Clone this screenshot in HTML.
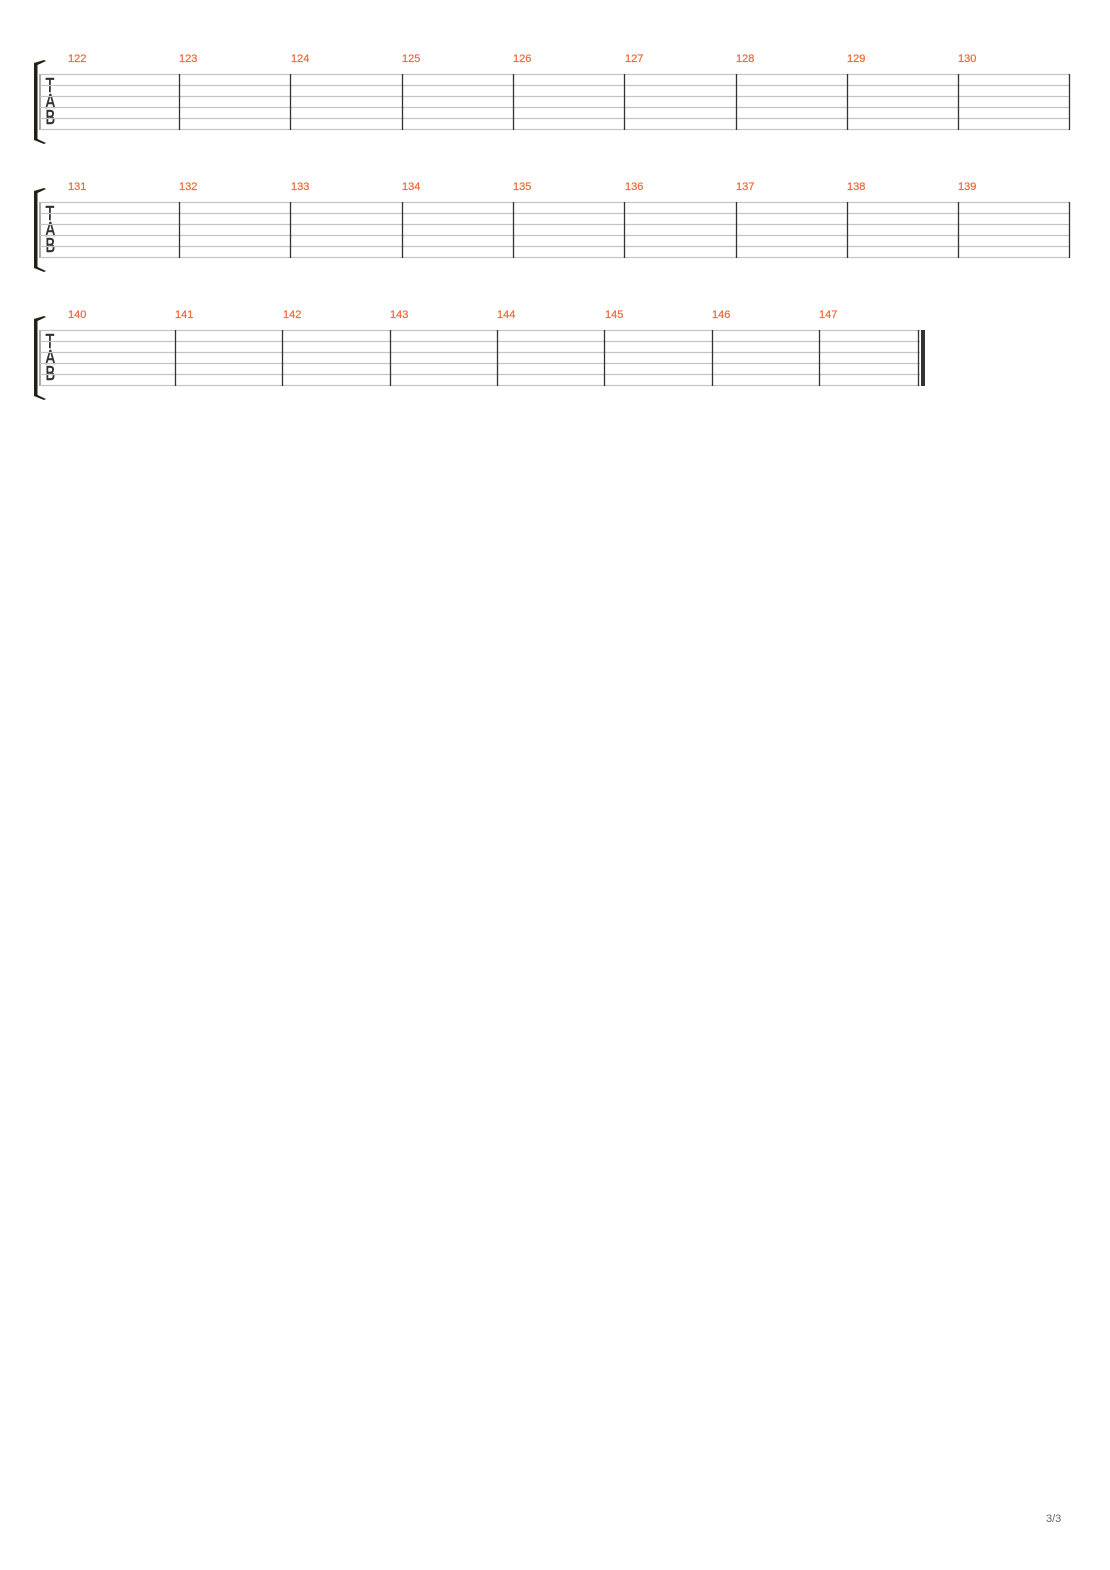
<!DOCTYPE html>
<html><head><meta charset="utf-8"><style>
html,body{margin:0;padding:0;background:#fff;}
svg{display:block}
.n{font-family:"Liberation Sans",sans-serif;font-size:11px;fill:#f26b3a;stroke:#f26b3a;stroke-width:0.25;}
.t{font-family:"Liberation Sans",sans-serif;font-size:20px;fill:#333;stroke:#333;stroke-width:0.6;}
.sl{stroke:#c4c4c4;stroke-width:1.2;}
.bl{stroke:#333;stroke-width:1.3;}
</style></head><body>
<svg width="1110" height="1570" viewBox="0 0 1110 1570" xmlns="http://www.w3.org/2000/svg">
<defs>
<path id="br" d="M34 63 L44 60 L46 61 L37.5 65 L37.5 139 L46 143 L44 144 L34 140 Z" fill="#222214"/>
<g id="tab">
<g transform="translate(45.5,0) scale(0.72,1)"><text class="t" x="0" y="92">T</text><text class="t" x="0" y="108">A</text><text class="t" x="0" y="124">B</text></g>
<line x1="40" y1="74" x2="40" y2="130" stroke="#aaa" stroke-width="2"/>
</g>
</defs>

<g>
<use href="#br"/><use href="#tab"/>
<g class="sl"><line x1="40" y1="74.5" x2="1070" y2="74.5"/><line x1="40" y1="85.5" x2="1070" y2="85.5"/><line x1="40" y1="96.5" x2="1070" y2="96.5"/><line x1="40" y1="107.5" x2="1070" y2="107.5"/><line x1="40" y1="118.5" x2="1070" y2="118.5"/><line x1="40" y1="129.5" x2="1070" y2="129.5"/></g>
<g class="bl"><line x1="179.5" y1="74" x2="179.5" y2="130"/><line x1="290.5" y1="74" x2="290.5" y2="130"/><line x1="402.5" y1="74" x2="402.5" y2="130"/><line x1="513.5" y1="74" x2="513.5" y2="130"/><line x1="624.5" y1="74" x2="624.5" y2="130"/><line x1="736.5" y1="74" x2="736.5" y2="130"/><line x1="847.5" y1="74" x2="847.5" y2="130"/><line x1="958.5" y1="74" x2="958.5" y2="130"/><line x1="1069.5" y1="74" x2="1069.5" y2="130"/></g>
<g class="n"><text x="68" y="62">122</text><text x="179" y="62">123</text><text x="291" y="62">124</text><text x="402" y="62">125</text><text x="513" y="62">126</text><text x="625" y="62">127</text><text x="736" y="62">128</text><text x="847" y="62">129</text><text x="958" y="62">130</text></g>
</g>

<g transform="translate(0,128)">
<use href="#br"/><use href="#tab"/>
<g class="sl"><line x1="40" y1="74.5" x2="1070" y2="74.5"/><line x1="40" y1="85.5" x2="1070" y2="85.5"/><line x1="40" y1="96.5" x2="1070" y2="96.5"/><line x1="40" y1="107.5" x2="1070" y2="107.5"/><line x1="40" y1="118.5" x2="1070" y2="118.5"/><line x1="40" y1="129.5" x2="1070" y2="129.5"/></g>
<g class="bl"><line x1="179.5" y1="74" x2="179.5" y2="130"/><line x1="290.5" y1="74" x2="290.5" y2="130"/><line x1="402.5" y1="74" x2="402.5" y2="130"/><line x1="513.5" y1="74" x2="513.5" y2="130"/><line x1="624.5" y1="74" x2="624.5" y2="130"/><line x1="736.5" y1="74" x2="736.5" y2="130"/><line x1="847.5" y1="74" x2="847.5" y2="130"/><line x1="958.5" y1="74" x2="958.5" y2="130"/><line x1="1069.5" y1="74" x2="1069.5" y2="130"/></g>
<g class="n"><text x="68" y="62">131</text><text x="179" y="62">132</text><text x="291" y="62">133</text><text x="402" y="62">134</text><text x="513" y="62">135</text><text x="625" y="62">136</text><text x="736" y="62">137</text><text x="847" y="62">138</text><text x="958" y="62">139</text></g>
</g>

<g transform="translate(0,256)">
<use href="#br"/><use href="#tab"/>
<g class="sl"><line x1="40" y1="74.5" x2="920" y2="74.5"/><line x1="40" y1="85.5" x2="920" y2="85.5"/><line x1="40" y1="96.5" x2="920" y2="96.5"/><line x1="40" y1="107.5" x2="920" y2="107.5"/><line x1="40" y1="118.5" x2="920" y2="118.5"/><line x1="40" y1="129.5" x2="920" y2="129.5"/></g>
<g class="bl"><line x1="175.5" y1="74" x2="175.5" y2="130"/><line x1="282.5" y1="74" x2="282.5" y2="130"/><line x1="390.5" y1="74" x2="390.5" y2="130"/><line x1="497.5" y1="74" x2="497.5" y2="130"/><line x1="604.5" y1="74" x2="604.5" y2="130"/><line x1="712.5" y1="74" x2="712.5" y2="130"/><line x1="819.5" y1="74" x2="819.5" y2="130"/><line x1="918.5" y1="74" x2="918.5" y2="130"/></g>
<rect x="921" y="74" width="4" height="56" fill="#333"/>
<g class="n"><text x="68" y="62">140</text><text x="175" y="62">141</text><text x="283" y="62">142</text><text x="390" y="62">143</text><text x="497" y="62">144</text><text x="605" y="62">145</text><text x="712" y="62">146</text><text x="819" y="62">147</text></g>
</g>

<text x="1046" y="1522" font-family="Liberation Sans, sans-serif" font-size="11" fill="#666">3/3</text>
</svg>
</body></html>
